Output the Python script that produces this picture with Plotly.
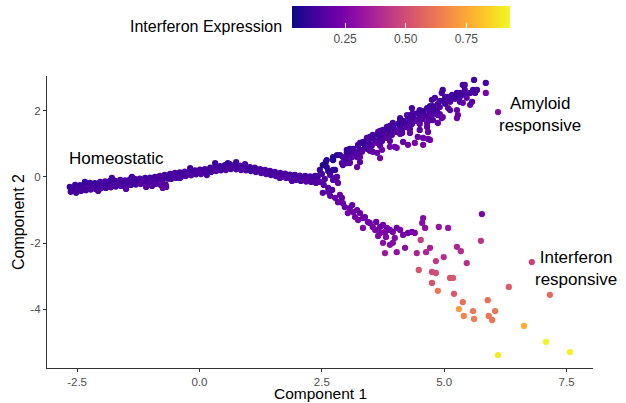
import plotly.graph_objects as go

# ---------------- data ----------------
# Homeostatic trunk (three overlapping rows of cells + edge cells)
homeo_x = [
    -2.65, -2.54, -2.44, -2.34, -2.24, -2.14, -2.03, -1.93, -1.83, -1.73, -1.62, -1.52, -1.42, -1.32, -1.22, -1.11, -1.01, -0.91, -0.81, -0.71,
    -0.60, -0.50, -0.40, -0.30, -0.19, -0.09, 0.01, 0.11, 0.22, 0.32, 0.42, 0.52, 0.62, 0.73, 0.83, 0.93, 1.03, 1.13, 1.24, 1.34,
    1.44, 1.54, 1.65, 1.75, 1.85, 1.95, 2.05, 2.16, 2.26, 2.36,
    -2.60, -2.49, -2.39, -2.29, -2.19, -2.08, -1.98, -1.88, -1.78, -1.68, -1.57, -1.47, -1.37, -1.27, -1.16, -1.06, -0.96, -0.86, -0.76, -0.65,
    -0.55, -0.45, -0.35, -0.24, -0.14, -0.04, 0.06, 0.16, 0.27, 0.37, 0.47, 0.57, 0.67, 0.78, 0.88, 0.98, 1.08, 1.18, 1.29, 1.39,
    1.49, 1.59, 1.70, 1.80, 1.90, 2.00, 2.10, 2.21, 2.31, 2.41,
    -2.63, -2.52, -2.42, -2.32, -2.22, -2.12, -2.01, -1.91, -1.81, -1.71, -1.60, -1.50, -1.40, -1.30, -1.20, -1.09, -0.99, -0.89, -0.79, -0.69,
    -0.58, -0.48, -0.38, -0.28, -0.17, -0.07, 0.03, 0.13, 0.24, 0.34, 0.44, 0.54, 0.64, 0.75, 0.85, 0.95, 1.05, 1.15, 1.26, 1.36,
    1.46, 1.56, 1.67, 1.77, 1.87, 1.97, 2.07, 2.18, 2.28, 2.38,
    -2.07, -1.50, -1.09, -0.97, -0.75, -0.68, -0.40, 0.15, 0.46, 0.58, 0.75, 0.93, 1.28, 1.64, 1.89, -2.34, -1.79, -1.38, -0.19, 0.32,
]
homeo_y = [
    -0.30, -0.24, -0.25, -0.21, -0.18, -0.19, -0.15, -0.13, -0.12, -0.11, -0.09, -0.10, -0.07, -0.06, -0.05, -0.03, -0.02, 0.00, 0.03, 0.06,
    0.09, 0.12, 0.14, 0.16, 0.18, 0.20, 0.22, 0.24, 0.28, 0.30, 0.33, 0.36, 0.39, 0.37, 0.34, 0.33, 0.30, 0.28, 0.24, 0.21,
    0.18, 0.15, 0.12, 0.10, 0.07, 0.06, 0.04, 0.03, 0.02, 0.03,
    -0.39, -0.36, -0.33, -0.31, -0.29, -0.27, -0.26, -0.24, -0.22, -0.21, -0.18, -0.17, -0.15, -0.14, -0.12, -0.11, -0.09, -0.08, -0.09, -0.05,
    0.00, 0.03, 0.06, 0.09, 0.11, 0.14, 0.17, 0.18, 0.21, 0.23, 0.26, 0.27, 0.30, 0.29, 0.27, 0.26, 0.24, 0.21, 0.18, 0.15,
    0.12, 0.09, 0.06, 0.03, 0.00, -0.02, -0.03, -0.06, -0.08, -0.09,
    -0.45, -0.48, -0.42, -0.40, -0.38, -0.36, -0.34, -0.33, -0.31, -0.29, -0.27, -0.26, -0.24, -0.23, -0.21, -0.20, -0.18, -0.21, -0.24, -0.23,
    -0.06, -0.03, 0.00, 0.03, 0.05, 0.08, 0.09, 0.12, 0.15, 0.18, 0.20, 0.21, 0.24, 0.23, 0.21, 0.20, 0.18, 0.15, 0.12, 0.09,
    0.06, 0.03, 0.00, -0.03, -0.06, -0.09, -0.12, -0.14, -0.15, -0.18,
    -0.42, -0.36, -0.30, -0.27, -0.33, -0.30, -0.03, 0.06, 0.30, 0.42, 0.45, 0.39, 0.15, -0.03, -0.12, -0.15, -0.03, 0.00, 0.27, 0.42,
]
homeo_expr = [
    0.10, 0.12, 0.11, 0.14, 0.12, 0.10, 0.13, 0.15, 0.12, 0.11, 0.14, 0.13, 0.12, 0.16, 0.13, 0.11, 0.14, 0.12, 0.15, 0.13,
    0.12, 0.14, 0.11, 0.13, 0.16, 0.12, 0.14, 0.13, 0.11, 0.15, 0.12, 0.14, 0.13, 0.12, 0.15, 0.13, 0.11, 0.14, 0.12, 0.16,
    0.13, 0.12, 0.15, 0.14, 0.12, 0.13, 0.15, 0.12, 0.14, 0.13,
    0.11, 0.13, 0.12, 0.15, 0.13, 0.12, 0.14, 0.11, 0.13, 0.15, 0.12, 0.14, 0.13, 0.11, 0.16, 0.12, 0.14, 0.13, 0.15, 0.12,
    0.14, 0.13, 0.12, 0.15, 0.11, 0.14, 0.13, 0.12, 0.16, 0.13, 0.12, 0.14, 0.13, 0.15, 0.12, 0.14, 0.13, 0.12, 0.15, 0.13,
    0.14, 0.12, 0.16, 0.13, 0.15, 0.12, 0.14, 0.16, 0.13, 0.15,
    0.12, 0.14, 0.13, 0.12, 0.15, 0.13, 0.14, 0.12, 0.16, 0.13, 0.15, 0.12, 0.14, 0.13, 0.17, 0.12, 0.15, 0.16, 0.18, 0.15,
    0.13, 0.15, 0.12, 0.14, 0.16, 0.13, 0.15, 0.14, 0.12, 0.16, 0.13, 0.15, 0.14, 0.13, 0.16, 0.14, 0.12, 0.15, 0.14, 0.16,
    0.13, 0.15, 0.14, 0.17, 0.15, 0.16, 0.14, 0.17, 0.15, 0.16,
    0.15, 0.17, 0.18, 0.16, 0.19, 0.17, 0.14, 0.13, 0.12, 0.11, 0.12, 0.13, 0.14, 0.16, 0.15, 0.11, 0.12, 0.13, 0.12, 0.11,
]

# Branch point
junction_x = [2.42, 2.46, 2.50, 2.52, 2.58, 2.60, 2.63, 2.67, 2.56, 2.46, 2.54, 2.63, 2.73, 2.77, 2.83, 2.60, 2.73,
              2.73, 2.81, 2.87, 2.93, 3.01, 3.07, 3.14, 3.22, 3.22, 3.28, 2.93, 3.01, 2.77, 2.81, 2.73, 3.01]
junction_y = [0.03, 0.21, 0.09, 0.36, 0.45, 0.30, 0.18, 0.06, -0.06, -0.15, -0.24, -0.33, -0.09, -0.03, -0.18, 0.51, 0.60,
              0.51, 0.66, 0.66, 0.60, 0.73, 0.42, 0.73, 0.60, 0.30, 0.45, 0.36, 0.42, 0.21, 0.00, 0.21, 0.82]
junction_expr = [0.12, 0.10, 0.13, 0.07, 0.06, 0.08, 0.09, 0.14, 0.15, 0.17, 0.16, 0.18, 0.17, 0.15, 0.20, 0.08, 0.07,
                 0.06, 0.09, 0.10, 0.12, 0.11, 0.18, 0.12, 0.14, 0.20, 0.17, 0.13, 0.15, 0.11, 0.16, 0.09, 0.13]

# Amyloid responsive branch
amyloid_x = [
    2.97, 3.07, 3.18, 3.28, 3.38, 3.48, 3.59, 3.69, 3.79, 3.89, 3.99, 4.10, 4.20, 4.30, 4.40, 4.50, 4.61, 4.71, 4.81, 4.91,
    5.02, 5.12, 5.22, 5.32, 5.42, 5.53,
    3.07, 3.28, 3.48, 3.69, 3.89, 4.10, 4.30, 4.50, 4.71, 4.91,
    3.07, 3.28, 3.48, 3.69, 3.89, 4.10, 4.30, 4.50, 4.71, 4.91, 5.12,
    3.24, 3.34, 3.42, 3.54, 3.65, 3.75, 3.83, 3.95, 4.10, 4.24, 4.34, 4.36, 4.50, 4.65, 4.71, 4.77, 4.75, 4.81, 4.95, 4.97,
    5.02, 5.12, 5.16, 5.26, 5.32, 5.38, 5.42, 5.46, 5.53, 5.57, 5.59, 5.61, 5.63, 5.67, 5.85, 5.85, 5.38, 5.08, 5.26, 5.26,
    5.28, 4.85, 4.87, 4.95, 4.97, 4.87, 4.77, 4.65, 4.65, 4.67, 4.71, 4.57, 4.46, 4.40, 4.26, 4.03, 3.89, 3.73, 3.69, 3.63,
    3.54, 3.48, 4.14, 4.10, 3.95, 3.75, 4.30, 4.50, 4.57, 4.36, 4.24, 4.30, 4.16, 3.99, 4.57, 4.67, 5.32, 5.42, 5.06,
    2.91, 3.01, 3.12, 3.22, 3.32, 3.42, 3.52, 3.63, 3.73, 3.83, 3.93, 4.03, 4.14, 4.24, 4.34, 4.44, 4.55, 4.65, 4.75, 4.85,
    3.03, 3.14, 3.24, 3.34, 3.44, 3.54, 3.65, 3.75, 3.85, 3.95, 4.06, 4.16, 4.26, 4.36, 4.46, 4.57, 4.67, 4.77, 4.87, 4.97,
    5.08, 5.18, 5.28,
    6.10,
]
amyloid_y = [
    0.57, 0.66, 0.76, 0.82, 0.91, 1.00, 1.09, 1.15, 1.24, 1.33, 1.42, 1.51, 1.60, 1.66, 1.75, 1.81, 1.87, 1.93, 2.02, 2.11,
    2.21, 2.30, 2.36, 2.42, 2.48, 2.54,
    0.85, 1.03, 1.21, 1.39, 1.54, 1.72, 1.87, 1.99, 2.14, 2.30,
    0.45, 0.60, 0.79, 0.94, 1.09, 1.30, 1.45, 1.60, 1.72, 1.90, 2.02,
    0.97, 1.06, 1.18, 1.27, 1.36, 1.42, 1.51, 1.63, 1.78, 1.87, 2.08, 1.93, 2.02, 2.08, 2.02, 2.11, 2.33, 2.39, 2.54, 2.63,
    2.42, 2.27, 2.48, 2.54, 2.27, 2.78, 2.63, 2.39, 2.18, 2.27, 2.63, 2.93, 2.54, 2.63, 2.84, 2.54, 2.24, 2.08, 2.02, 1.78,
    1.87, 2.02, 1.87, 1.78, 1.81, 1.63, 1.72, 1.63, 1.51, 1.36, 1.12, 1.18, 1.21, 1.03, 0.97, 0.88, 0.91, 0.82, 0.57, 0.73,
    0.76, 0.88, 1.33, 1.63, 1.51, 1.27, 1.81, 1.42, 1.93, 1.72, 1.51, 1.33, 1.06, 0.91, 0.97, 1.15, 2.54, 2.78, 2.42,
    0.42, 0.51, 0.60, 0.69, 0.76, 0.85, 0.94, 1.03, 1.09, 1.18, 1.27, 1.36, 1.42, 1.51, 1.60, 1.69, 1.75, 1.81, 1.87, 1.96,
    0.76, 0.85, 0.94, 1.03, 1.09, 1.18, 1.27, 1.33, 1.42, 1.51, 1.60, 1.69, 1.78, 1.84, 1.93, 1.99, 2.05, 2.14, 2.21, 2.30,
    2.36, 2.42, 2.48,
    1.96,
]
amyloid_expr = [
    0.14, 0.12, 0.15, 0.13, 0.11, 0.14, 0.16, 0.12, 0.13, 0.15, 0.12, 0.14, 0.11, 0.13, 0.15, 0.12, 0.14, 0.13, 0.12, 0.15,
    0.13, 0.12, 0.14, 0.13, 0.12, 0.14,
    0.10, 0.12, 0.11, 0.13, 0.12, 0.10, 0.13, 0.12, 0.11, 0.12,
    0.18, 0.20, 0.17, 0.19, 0.18, 0.21, 0.17, 0.19, 0.20, 0.18, 0.17,
    0.15, 0.13, 0.16, 0.14, 0.17, 0.13, 0.15, 0.14, 0.12, 0.16, 0.13, 0.15, 0.14, 0.12, 0.16, 0.13, 0.12, 0.14, 0.15, 0.12,
    0.14, 0.16, 0.13, 0.12, 0.15, 0.12, 0.14, 0.18, 0.20, 0.17, 0.13, 0.12, 0.14, 0.15, 0.13, 0.24, 0.19, 0.17, 0.20, 0.22,
    0.21, 0.16, 0.18, 0.21, 0.19, 0.20, 0.17, 0.19, 0.18, 0.21, 0.24, 0.22, 0.20, 0.24, 0.22, 0.24, 0.21, 0.22, 0.23, 0.20,
    0.19, 0.21, 0.18, 0.15, 0.16, 0.14, 0.13, 0.17, 0.15, 0.16, 0.17, 0.19, 0.20, 0.22, 0.23, 0.21, 0.13, 0.14, 0.15,
    0.16, 0.14, 0.17, 0.15, 0.18, 0.14, 0.16, 0.19, 0.15, 0.17, 0.16, 0.18, 0.14, 0.17, 0.15, 0.18, 0.16, 0.15, 0.17, 0.14,
    0.11, 0.13, 0.12, 0.10, 0.13, 0.12, 0.11, 0.14, 0.12, 0.13, 0.11, 0.12, 0.14, 0.12, 0.13, 0.11, 0.13, 0.12, 0.14, 0.12,
    0.13, 0.12, 0.11,
    0.28,
]

# Interferon responsive branch (dense part)
ifn_dense_x = [2.52, 2.63, 2.67, 2.71, 2.77, 2.87, 2.83, 2.91, 2.93, 2.97, 3.07, 3.12, 3.03, 3.14, 3.22, 3.18, 3.28, 3.24,
               3.34, 3.38, 3.44, 3.48, 3.54, 3.61, 3.69, 3.75, 3.83, 3.69, 3.89, 3.95, 4.03, 4.10, 4.16, 4.26, 4.34, 4.40,
               3.34, 3.75, 3.79, 3.89, 3.95, 4.03, 4.20, 3.81, 3.99, 3.65, 3.59, 3.79]
ifn_dense_y = [-0.48, -0.45, -0.57, -0.39, -0.63, -0.54, -0.76, -0.63, -0.79, -0.91, -0.94, -0.85, -1.09, -1.06, -1.00,
               -1.21, -1.09, -1.30, -1.24, -1.21, -1.36, -1.39, -1.51, -1.36, -1.51, -1.45, -1.54, -1.69, -1.60, -1.66,
               -1.54, -1.60, -1.75, -1.69, -1.66, -1.69, -1.54, -1.99, -2.30, -2.05, -1.99, -2.27, -2.14, -1.81, -1.84,
               -1.78, -1.60, -1.66]
ifn_dense_expr = [0.17, 0.19, 0.18, 0.16, 0.20, 0.19, 0.21, 0.18, 0.22, 0.20, 0.21, 0.19, 0.23, 0.21, 0.20, 0.22, 0.21,
                  0.24, 0.22, 0.21, 0.23, 0.22, 0.24, 0.21, 0.23, 0.22, 0.24, 0.25, 0.23, 0.24, 0.22, 0.24, 0.25, 0.23,
                  0.24, 0.25, 0.26, 0.29, 0.33, 0.28, 0.27, 0.31, 0.29, 0.26, 0.27, 0.26, 0.24, 0.25]

# Interferon responsive branch (sparse, highly expressing cells)
ifn_sparse_x = [4.57, 4.55, 4.61, 4.89, 5.08, 5.77, 5.75, 4.52, 4.71, 4.63, 4.44, 4.83, 4.99, 5.26, 5.34, 5.46, 4.48,
                4.75, 4.83, 5.12, 5.18, 4.75, 4.87, 5.20, 6.79, 6.32, 7.16, 5.38, 5.89, 5.30, 5.59, 6.04, 5.40, 5.61,
                5.91, 5.98, 6.63, 7.08, 7.57, 6.10]
ifn_sparse_y = [-1.24, -1.39, -1.54, -1.51, -1.54, -1.12, -1.93, -1.90, -2.14, -2.27, -2.30, -2.54, -2.42, -2.11, -2.24,
                -2.60, -2.81, -2.87, -2.90, -3.05, -3.05, -3.20, -3.44, -3.53, -2.57, -3.32, -3.56, -3.78, -3.72, -3.99,
                -4.05, -4.05, -4.20, -4.29, -4.20, -4.32, -4.50, -4.98, -5.29, -5.38]
ifn_sparse_expr = [0.27, 0.28, 0.30, 0.31, 0.32, 0.25, 0.42, 0.45, 0.36, 0.38, 0.37, 0.44, 0.40, 0.38, 0.40, 0.41, 0.52,
                   0.49, 0.50, 0.52, 0.53, 0.52, 0.62, 0.53, 0.46, 0.54, 0.59, 0.60, 0.60, 0.72, 0.63, 0.62, 0.66, 0.64,
                   0.62, 0.62, 0.76, 0.92, 0.91, 0.90]

# Axis ticks
x_tick_vals = [-2.5, 0.0, 2.5, 5.0, 7.5]
x_tick_text = ["-2.5", "0.0", "2.5", "5.0", "7.5"]
y_tick_vals = [-4, -2, 0, 2]
y_tick_text = ["-4", "-2", "0", "2"]
cbar_tick_vals = [0.25, 0.50, 0.75]
cbar_tick_text = ["0.25", "0.50", "0.75"]

# State labels
label_text = ["Homeostatic", "Amyloid<br>responsive", "Interferon<br>responsive"]
label_x = [-1.69, 6.96, 7.69]
label_y = [0.57, 1.90, -2.76]

# ---------------- figure ----------------
all_x = homeo_x + junction_x + amyloid_x + ifn_dense_x + ifn_sparse_x
all_y = homeo_y + junction_y + amyloid_y + ifn_dense_y + ifn_sparse_y
all_c = homeo_expr + junction_expr + amyloid_expr + ifn_dense_expr + ifn_sparse_expr

FONT = "Liberation Sans, Arial, Helvetica, sans-serif"

fig = go.Figure()
fig.add_trace(go.Scatter(
    x=all_x, y=all_y, mode="markers",
    marker=dict(
        size=6.3, color=all_c, colorscale="Plasma", cmin=0.031, cmax=0.93,
        line=dict(width=0),
        showscale=True,
        colorbar=dict(
            orientation="h", lenmode="pixels", len=218, thicknessmode="pixels", thickness=22,
            x=0.4487, xanchor="left", y=1.2397, yanchor="top", xpad=0, ypad=0,
            outlinewidth=0, tickvals=cbar_tick_vals, ticktext=cbar_tick_text,
            ticks="inside", ticklen=5, tickcolor="white", tickwidth=1,
            tickfont=dict(family=FONT, size=12, color="#4d4d4d"),
        ),
    ),
    hoverinfo="skip", showlegend=False,
))

for t, xx, yy in zip(label_text, label_x, label_y):
    fig.add_annotation(x=xx, y=yy, xref="x", yref="y", text=t, showarrow=False,
                       xanchor="center", yanchor="middle", align="center",
                       font=dict(family=FONT, size=17, color="black"))

fig.add_annotation(x=0.434, y=1.168, xref="paper", yref="paper", text="Interferon Expression",
                   showarrow=False, xanchor="right", yanchor="middle",
                   font=dict(family=FONT, size=16, color="black"))

# Axis titles placed as paper annotations (ggplot-like positions)
fig.add_annotation(x=0.5, y=-0.089, xref="paper", yref="paper", text="Component 1",
                   showarrow=False, xanchor="center", yanchor="middle",
                   font=dict(family=FONT, size=15.5, color="black"))
fig.add_annotation(x=-0.053, y=0.5, xref="paper", yref="paper", text="Component 2",
                   showarrow=False, xanchor="center", yanchor="middle", textangle=-90,
                   font=dict(family=FONT, size=16, color="black"))

axis_common = dict(
    showgrid=False, zeroline=False, showline=True, linecolor="#333333", linewidth=1.2,
    ticks="outside", ticklen=3, tickwidth=1, tickcolor="#333333",
    tickfont=dict(family=FONT, size=11.5, color="#4d4d4d"), automargin=False,
)
fig.update_xaxes(range=[-3.115, 8.04], tickvals=x_tick_vals, ticktext=x_tick_text, **axis_common)
fig.update_yaxes(range=[-5.77, 3.05], tickvals=y_tick_vals, ticktext=y_tick_text, **axis_common)

fig.update_layout(
    width=626, height=403,
    margin=dict(l=47, r=33, t=76, b=35, pad=0, autoexpand=False),
    plot_bgcolor="white", paper_bgcolor="white",
    font=dict(family=FONT),
)

fig.write_html("out.html", config={"displayModeBar": False},
               post_script="document.body.style.margin='0';document.body.style.overflow='hidden';")
